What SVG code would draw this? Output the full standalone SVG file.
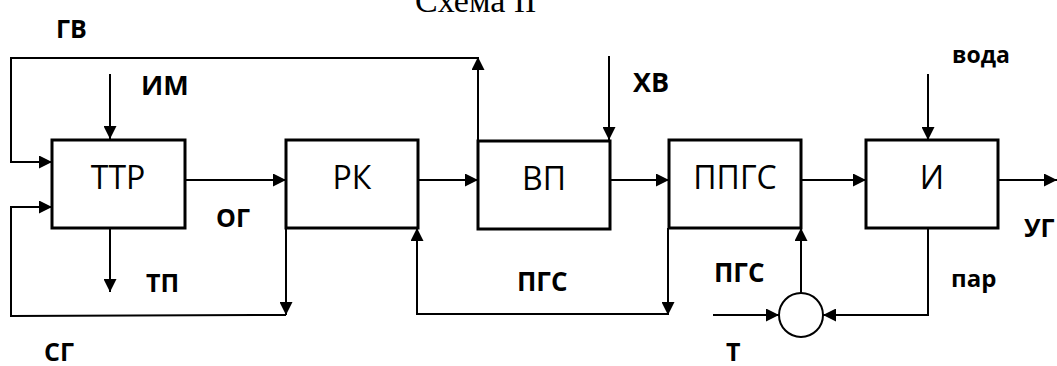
<svg xmlns="http://www.w3.org/2000/svg" width="1057" height="366" viewBox="0 0 1057 366">
<defs>
<marker id="ah" markerUnits="userSpaceOnUse" markerWidth="13" markerHeight="13" refX="13" refY="6.5" orient="auto">
<path d="M0,0 L13,6.5 L0,13 z" fill="#000"/>
</marker>
<style>
.box{fill:#fff;stroke:#000;stroke-width:3}
.bt{font-family:"Open Sans","Liberation Sans",sans-serif;font-size:32px;text-anchor:middle;fill:#000}
.lb{font-family:"Open Sans","Liberation Sans",sans-serif;font-weight:bold;fill:#000}
.ca{fill:none;stroke:#000;stroke-width:2;marker-end:url(#ah)}
</style>
</defs>
<rect width="1057" height="366" fill="#fff"/>
<text x="415" y="12" font-family="'Liberation Serif',serif" font-size="34">Схема II</text>
<g id="connectors">
<line class="ca" x1="478" y1="141" x2="478" y2="57"/>
<polyline class="ca" points="478,58 11,58 11,162 52,162"/>
<line class="ca" x1="110" y1="74" x2="110" y2="139"/>
<line class="ca" x1="185" y1="180" x2="286" y2="180"/>
<line class="ca" x1="110" y1="228" x2="110" y2="292"/>
<line class="ca" x1="286" y1="228" x2="286" y2="315"/>
<polyline class="ca" points="286,315 11,316 11,207 52,207"/>
<line class="ca" x1="418" y1="180" x2="478" y2="180"/>
<line class="ca" x1="609" y1="56" x2="609" y2="140"/>
<line class="ca" x1="610" y1="180" x2="669" y2="180"/>
<line class="ca" x1="668" y1="228" x2="668" y2="315"/>
<polyline class="ca" points="668,314 417,314 417,228"/>
<line class="ca" x1="801" y1="180" x2="866" y2="180"/>
<line class="ca" x1="928" y1="74" x2="928" y2="140"/>
<line class="ca" x1="998" y1="180" x2="1057" y2="180"/>
<polyline class="ca" points="928,228 928,315 823,315"/>
<line class="ca" x1="713" y1="315" x2="779" y2="315"/>
<line class="ca" x1="801" y1="293" x2="801" y2="228"/>
</g>
<g id="TTR"><rect class="box" x="52" y="140" width="133" height="88"/><text class="bt" x="118" y="189">ТТР</text></g>
<g id="RK"><rect class="box" x="286" y="140" width="132" height="88"/><text class="bt" x="352" y="189">РК</text></g>
<g id="VP"><rect class="box" x="478" y="141" width="132" height="88"/><text class="bt" x="544" y="190">ВП</text></g>
<g id="PPGS"><rect class="box" x="669" y="140" width="132" height="88"/><text class="bt" x="735" y="189">ППГС</text></g>
<g id="I"><rect class="box" x="866" y="140" width="132" height="88"/><text class="bt" x="932" y="189">И</text></g>
<g id="mixer"><circle cx="801" cy="315" r="22" fill="#fff" stroke="#000" stroke-width="2"/></g>
<g id="labels">
<text class="lb" x="56" y="38" font-size="25">ГВ</text>
<text class="lb" x="141" y="95" font-size="27">ИМ</text>
<text class="lb" x="633" y="92" font-size="27">ХВ</text>
<text class="lb" x="216" y="227" font-size="25">ОГ</text>
<text class="lb" x="146" y="292" font-size="25">ТП</text>
<text class="lb" x="44" y="361" font-size="25">СГ</text>
<text class="lb" x="517" y="291" font-size="26">ПГС</text>
<text class="lb" x="714" y="282" font-size="26">ПГС</text>
<text class="lb" x="952" y="63" font-size="23">вода</text>
<text class="lb" x="951" y="287" font-size="24">пар</text>
<text class="lb" x="726" y="361" font-size="25">Т</text>
<text class="lb" x="1024" y="237" font-size="25">УГ</text>
</g>
</svg>
